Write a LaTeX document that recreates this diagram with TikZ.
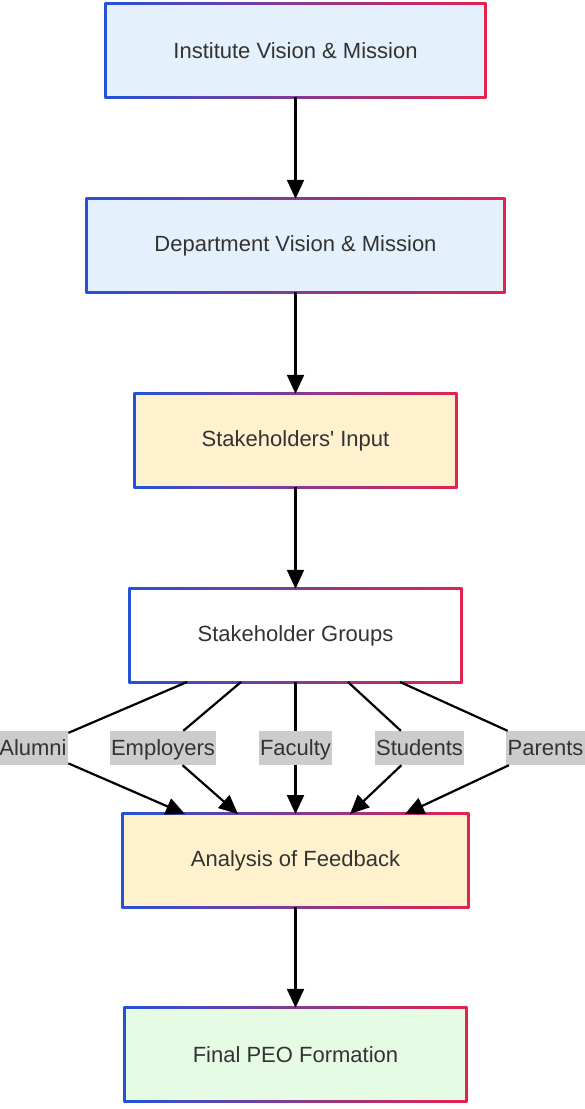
\documentclass[tikz,border=0pt]{standalone}
\usepackage{fontspec}
\setmainfont{Liberation Sans}
\usetikzlibrary{arrows.meta}
\definecolor{bblue}{HTML}{2452D6}
\definecolor{bred}{HTML}{E3234E}
\definecolor{fblue}{HTML}{E4F0FC}
\definecolor{fcream}{HTML}{FFF1CD}
\definecolor{fgreen}{HTML}{E6FBE4}
\definecolor{lgray}{HTML}{CCCCCC}
\definecolor{txt}{HTML}{333333}
\tikzset{
  boxtext/.style={inner sep=0pt, text=txt, font=\fontsize{22}{26}\selectfont},
  lab/.style={fill=lgray, text=txt, inner xsep=1.5pt, inner ysep=0pt, text height=19pt, text depth=4pt, minimum height=34pt, font=\fontsize{22}{26}\selectfont},
  arr/.style={line width=2.2pt, -{Triangle[length=19pt,width=17pt]}},
  ln/.style={line width=2.2pt}
}
\newcommand\gbox[7]{%
  \shade[left color=bblue,right color=bred] (#2-1.4,#3-1.4) rectangle (#4+1.4,#5+1.4);
  \fill[#6] (#2+1.4,#3+1.4) rectangle (#4-1.4,#5-1.4);
  \node[boxtext, minimum width={#4-#2}, minimum height={#5-#3}] (#1) at ({(#2+#4)/2},{(#3+#5)/2}) {#7};
}
\begin{document}
\begin{tikzpicture}[x=1pt,y=-1pt]
\fill[white] (0,0) rectangle (585,1109);
\useasboundingbox (0,0) rectangle (585,1109);
\gbox{b1}{106}{4}{485}{97}{fblue}{Institute Vision \& Mission}
\gbox{b2}{87}{199}{504}{292}{fblue}{Department Vision \& Mission}
\gbox{b3}{135}{394}{456}{487}{fcream}{Stakeholders\textquotesingle\ Input}
\gbox{b4}{130}{589}{461}{682}{white}{Stakeholder Groups}
\gbox{b5}{123}{814}{468}{907}{fcream}{Analysis of Feedback}
\gbox{b6}{125}{1008}{466}{1101}{fgreen}{Final PEO Formation}
\draw[arr] (b1.south) -- (b2.north);
\draw[arr] (b2.south) -- (b3.north);
\draw[arr] (b3.south) -- (b4.north);
\draw[arr] (b5.south) -- (b6.north);
\node[lab] (l1) at (33,748) {Alumni};
\node[lab] (l2) at (163,748) {Employers};
\node[lab] (l3) at (295.5,748) {Faculty};
\node[lab] (l4) at (419.5,748) {Students};
\node[lab] (l5) at (545.5,748) {Parents};
\coordinate (s1) at (187,682);
\coordinate (s2) at (241,682);
\coordinate (s3) at (295.5,682);
\coordinate (s4) at (348,682);
\coordinate (s5) at (400,682);
\coordinate (t1) at (185,814);
\coordinate (t2) at (238,814);
\coordinate (t3) at (295.5,814);
\coordinate (t4) at (350,814);
\coordinate (t5) at (405,814);
\foreach \i in {1,...,5}{
  \draw[ln] (s\i) -- (l\i);
  \draw[arr] (l\i) -- (t\i);
}
\end{tikzpicture}
\end{document}
